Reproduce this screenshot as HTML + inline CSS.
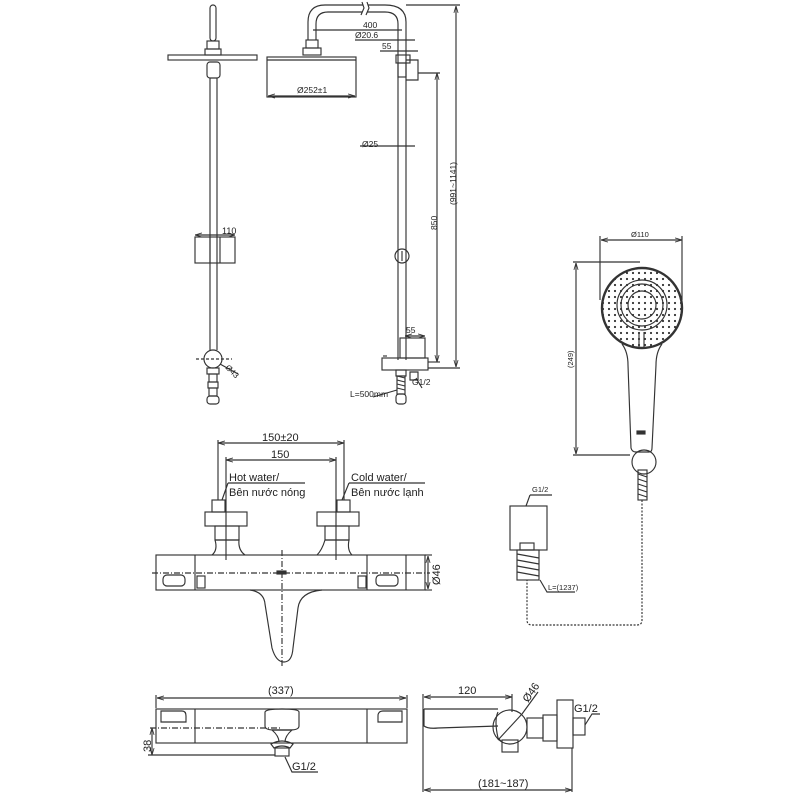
<!DOCTYPE html>
<html><head><meta charset="utf-8"><style>
html,body{margin:0;padding:0;background:#fff;}
svg{display:block}
text{font-family:"Liberation Sans",sans-serif;fill:#222}
</style></head><body>
<svg width="800" height="800" viewBox="0 0 800 800" xmlns="http://www.w3.org/2000/svg">
<defs>
<marker id="a" viewBox="0 0 10 10" refX="10" refY="5" markerWidth="6" markerHeight="6" orient="auto-start-reverse"><path d="M0,2 L10,5 L0,8" fill="none" stroke="#333" stroke-width="1.2"/></marker>
<pattern id="dots" width="6" height="6" patternUnits="userSpaceOnUse"><circle cx="3" cy="3" r="1.1" fill="#333"/></pattern>
</defs>
<g fill="none" stroke="#333" stroke-width="1.15">
<!-- LEFT VIEW -->
<rect x="210" y="5" width="6" height="36" rx="3"/>
<rect x="207" y="41" width="12" height="8"/>
<rect x="205" y="49" width="16" height="6"/>
<rect x="168" y="55" width="89" height="5"/>
<rect x="207" y="62" width="13" height="16" rx="3"/>
<line x1="210" y1="78" x2="210" y2="350"/><line x1="217" y1="78" x2="217" y2="350"/>
<rect x="195" y="237" width="40" height="26"/>
<line x1="210" y1="237" x2="210" y2="263"/><line x1="220" y1="237" x2="220" y2="263"/>
<line x1="195" y1="235" x2="235" y2="235" marker-start="url(#a)" marker-end="url(#a)"/>
<circle cx="213" cy="359" r="9"/>
<line x1="196" y1="359" x2="232" y2="359" stroke-dasharray="3 2"/>
<line x1="220" y1="364" x2="238" y2="374"/>
<rect x="207" y="368" width="12" height="6"/><rect x="209" y="374" width="8" height="8"/>
<rect x="208" y="382" width="10" height="6"/><rect x="209" y="388" width="8" height="8"/>
<rect x="207" y="396" width="12" height="8" rx="3"/>
<!-- RIGHT VIEW -->
<path d="M308,40 L308,22 Q308,5 325,5 L363,5 M368,5 L385,5 Q406,5 406,22 L406,360"/>
<path d="M316,40 L316,24 Q316,12 328,12 L362,12 M367,12 L385,12 Q398,12 398,24 L398,360"/>
<path d="M362,2 L364,8 L361,15 M367,2 L369,8 L366,15"/>
<rect x="306" y="40" width="12" height="8"/><rect x="303" y="48" width="18" height="7"/>
<rect x="267" y="57" width="89" height="40"/>
<line x1="267" y1="60" x2="356" y2="60"/>
<line x1="268" y1="96" x2="355" y2="96" marker-start="url(#a)" marker-end="url(#a)"/>
<line x1="313" y1="30" x2="402" y2="30"/>
<line x1="355" y1="40" x2="415" y2="40"/>
<line x1="380" y1="51" x2="418" y2="51"/>
<rect x="396" y="55" width="14" height="8"/>
<rect x="398" y="63" width="8" height="14"/>
<path d="M406,60 L418,60 L418,80 L406,80"/>
<line x1="418" y1="73" x2="440" y2="73"/>
<line x1="360" y1="146" x2="415" y2="146"/>
<circle cx="402" cy="256" r="7"/><line x1="402" y1="251" x2="402" y2="261"/>
<rect x="400" y="338" width="25" height="20"/>
<line x1="405" y1="336" x2="425" y2="336" marker-start="url(#a)" marker-end="url(#a)"/>
<rect x="382" y="358" width="46" height="12"/>
<line x1="383" y1="356" x2="387" y2="356"/>
<line x1="428" y1="362" x2="440" y2="362"/>
<line x1="406" y1="5" x2="460" y2="5"/>
<line x1="428" y1="368" x2="460" y2="368"/>
<line x1="437" y1="73" x2="437" y2="362" marker-start="url(#a)" marker-end="url(#a)"/>
<line x1="456" y1="6" x2="456" y2="367" marker-start="url(#a)" marker-end="url(#a)"/>
<rect x="396" y="370" width="10" height="6"/>
<path d="M397,376 L405,378 M397,380 L405,382 M397,384 L405,386 M397,388 L405,390"/>
<rect x="397" y="376" width="8" height="18"/>
<rect x="396" y="394" width="10" height="10" rx="3"/>
<path d="M410,372 L418,372 L418,380 L410,380 Z M416,378 L422,388"/>
<line x1="373" y1="397" x2="397" y2="390"/>
<!-- HAND SHOWER -->
<line x1="601" y1="240" x2="682" y2="240" marker-start="url(#a)" marker-end="url(#a)"/>
<line x1="600" y1="236" x2="600" y2="300"/><line x1="682" y1="236" x2="682" y2="300"/>
<line x1="573" y1="262" x2="640" y2="262"/><line x1="573" y1="455" x2="630" y2="455"/>
<line x1="576" y1="263" x2="576" y2="454" marker-start="url(#a)" marker-end="url(#a)"/>
<circle cx="642" cy="308" r="40" fill="url(#dots)" stroke-width="2.4"/>
<circle cx="642" cy="305" r="25"/><circle cx="642" cy="305" r="21"/><circle cx="642" cy="305" r="14"/>
<line x1="639" y1="332" x2="639" y2="347"/><line x1="644" y1="332" x2="644" y2="347"/>
<path d="M622,344 Q628,352 628,365 L631,448 Q632,452 636,452 L649,452 Q652,452 652,448 L656,365 Q656,352 662,344"/>
<rect x="637" y="431" width="8" height="3" fill="#333"/>
<circle cx="644" cy="462" r="12"/>
<rect x="638" y="470" width="9" height="30"/>
<path d="M638,474 L647,477 M638,479 L647,482 M638,484 L647,487 M638,489 L647,492 M638,494 L647,497"/>
<path d="M642,500 L642,620 Q642,625 637,625 L532,625 Q527,625 527,620 L527,580" stroke-dasharray="2 1.5"/>
<rect x="510" y="506" width="37" height="44"/>
<rect x="520" y="543" width="14" height="7"/>
<rect x="517" y="550" width="22" height="30"/>
<path d="M517,554 L539,558 M517,560 L539,564 M517,566 L539,570 M517,572 L539,576"/>
<line x1="530" y1="495" x2="552" y2="495"/><line x1="530" y1="495" x2="526" y2="506"/>
<path d="M540,580 L547,592 L575,592"/>
<!-- MIXER FRONT -->
<line x1="218" y1="443" x2="344" y2="443" marker-start="url(#a)" marker-end="url(#a)"/>
<line x1="226" y1="460" x2="336" y2="460" marker-start="url(#a)" marker-end="url(#a)"/>
<line x1="218" y1="440" x2="218" y2="500"/><line x1="344" y1="440" x2="344" y2="500"/>
<line x1="226" y1="457" x2="226" y2="560"/><line x1="336" y1="457" x2="336" y2="560"/>
<line x1="228" y1="483" x2="305" y2="483"/><line x1="349" y1="483" x2="425" y2="483"/>
<line x1="228" y1="483" x2="222" y2="500"/><line x1="349" y1="483" x2="342" y2="500"/>
<rect x="212" y="500" width="13" height="12"/><rect x="205" y="512" width="42" height="14"/>
<rect x="215" y="526" width="24" height="14"/>
<path d="M215,540 L239,540 Q238,550 245,555 M215,540 Q218,550 212,555"/>
<rect x="337" y="500" width="13" height="12"/><rect x="317" y="512" width="42" height="14"/>
<rect x="325" y="526" width="24" height="14"/>
<path d="M325,540 L349,540 Q347,550 352,555 M325,540 Q322,550 317,555"/>
<rect x="156" y="555" width="269" height="35"/>
<line x1="195" y1="555" x2="195" y2="590"/><line x1="367" y1="555" x2="367" y2="590"/>
<line x1="406" y1="555" x2="406" y2="590"/>
<rect x="163" y="575" width="22" height="11" rx="4"/><rect x="376" y="575" width="22" height="11" rx="4"/>
<rect x="197" y="576" width="8" height="12"/><rect x="358" y="576" width="8" height="12"/>
<line x1="152" y1="573" x2="430" y2="573" stroke-dasharray="6 2 1 2"/>
<line x1="282" y1="550" x2="282" y2="668" stroke-dasharray="6 2 1 2"/>
<rect x="277" y="571" width="9" height="3" fill="#333"/>
<line x1="425" y1="555" x2="432" y2="555"/><line x1="425" y1="590" x2="432" y2="590"/>
<line x1="428" y1="556" x2="428" y2="589" marker-start="url(#a)" marker-end="url(#a)"/>
<path d="M250,590 Q264,592 265,604 L272,648 Q276,662 284,662 Q292,662 293,648 L298,608 Q300,592 322,590"/>
<!-- BOTTOM VIEW -->
<line x1="157" y1="698" x2="406" y2="698" marker-start="url(#a)" marker-end="url(#a)"/>
<line x1="156" y1="695" x2="156" y2="708"/><line x1="407" y1="695" x2="407" y2="708"/>
<rect x="156" y="709" width="251" height="34"/>
<line x1="195" y1="709" x2="195" y2="743"/><line x1="367" y1="709" x2="367" y2="743"/>
<path d="M161,711 L182,711 Q186,711 186,716 L186,722 L161,722 Z"/>
<path d="M383,711 L402,711 L402,722 L378,722 L378,716 Q378,711 383,711"/>
<path d="M265,712 Q266,709 282,709 Q299,709 299,712 L299,726 Q299,730 290,730 L274,730 Q265,730 265,726 Z"/>
<path d="M272,730 L292,730 Q285,736 285,742 M279,742 Q279,736 272,730"/>
<path d="M271,744 Q282,738 293,744 L290,748 Q282,744 274,748 Z"/>
<rect x="275" y="748" width="14" height="8"/>
<line x1="150" y1="728" x2="282" y2="728" stroke-dasharray="6 2 1 2"/>
<line x1="148" y1="755" x2="275" y2="755"/>
<line x1="152" y1="728" x2="152" y2="755" marker-start="url(#a)" marker-end="url(#a)"/>
<path d="M285,757 L292,772 L318,772"/>
<!-- SIDE VIEW -->
<line x1="424" y1="697" x2="512" y2="697" marker-start="url(#a)" marker-end="url(#a)"/>
<line x1="423" y1="694" x2="423" y2="792"/><line x1="512" y1="694" x2="512" y2="712"/>
<path d="M424,709 L498,709 M424,709 L424,726 Q428,729 438,728 L498,726"/>
<circle cx="510" cy="727" r="17"/>
<path d="M498,712 Q494,720 498,738 L502,742"/>
<line x1="498" y1="740" x2="522" y2="714"/>
<line x1="522" y1="714" x2="538" y2="692"/>
<rect x="502" y="740" width="16" height="12"/>
<rect x="527" y="718" width="16" height="20"/>
<rect x="543" y="715" width="14" height="26"/>
<rect x="557" y="700" width="16" height="48"/>
<rect x="573" y="718" width="12" height="17"/>
<path d="M585,725 L592,714 L600,714"/>
<line x1="572" y1="748" x2="572" y2="792"/>
<line x1="424" y1="790" x2="572" y2="790" marker-start="url(#a)" marker-end="url(#a)"/>
</g>
<g font-size="9">
<text x="222" y="234">110</text>
<text x="297" y="93" font-size="8.5">Ø252±1</text>
<text x="363" y="28" font-size="8.5">400</text>
<text x="355" y="38" font-size="8.5">Ø20.6</text>
<text x="382" y="49" font-size="8.5">55</text>
<text x="362" y="147" font-size="8.5">Ø25</text>
<text x="406" y="333" font-size="8.5">55</text>
<text x="412" y="385" font-size="8.5">G1/2</text>
<text x="350" y="397" font-size="8.5">L=500mm</text>
<text transform="translate(437,230) rotate(-90)" font-size="8.5">850</text>
<text transform="translate(456,205) rotate(-90)" font-size="8.5">(991~1141)</text>
<text transform="translate(225,368) rotate(45)" font-size="8">Ø43</text>
<text x="631" y="237" font-size="7.5">Ø110</text>
<text transform="translate(573,368) rotate(-90)" font-size="7.5">(249)</text>
<text x="532" y="492" font-size="7.5">G1/2</text>
<text x="548" y="590" font-size="7.5">L=(1237)</text>
<text x="262" y="441" font-size="11">150±20</text>
<text x="271" y="458" font-size="11">150</text>
<text x="229" y="481" font-size="11">Hot water/</text>
<text x="229" y="496" font-size="11">Bên nước nóng</text>
<text x="351" y="481" font-size="11">Cold water/</text>
<text x="351" y="496" font-size="11">Bên nước lạnh</text>
<text transform="translate(440,585) rotate(-90)" font-size="11">Ø46</text>
<text x="268" y="694" font-size="11">(337)</text>
<text transform="translate(151,752) rotate(-90)" font-size="11">38</text>
<text x="292" y="770" font-size="11">G1/2</text>
<text x="458" y="694" font-size="11">120</text>
<text transform="translate(528,703) rotate(-55)" font-size="11">Ø46</text>
<text x="574" y="712" font-size="11">G1/2</text>
<text x="478" y="787" font-size="11">(181~187)</text>
</g>
</svg>
</body></html>
